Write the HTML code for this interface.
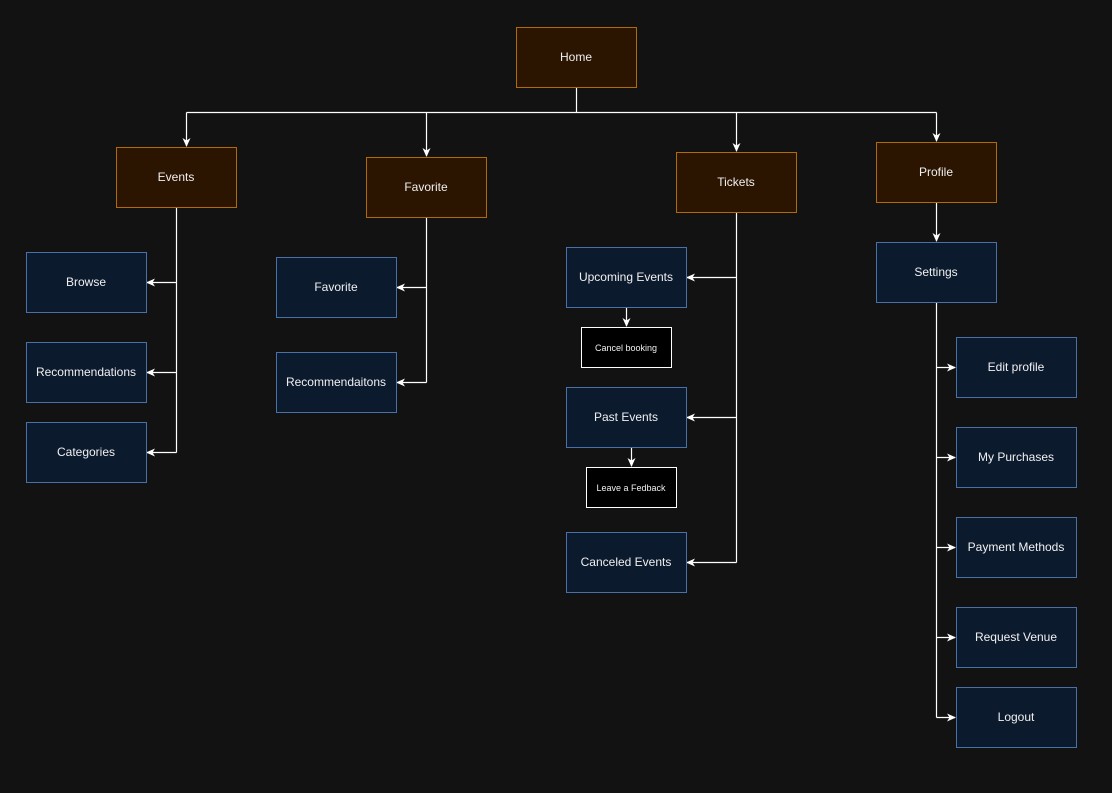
<!DOCTYPE html>
<html><head><meta charset="utf-8"><style>
html,body{margin:0;padding:0;background:#121212;}
svg{display:block;}
text{font-family:"Liberation Sans",Arial,sans-serif;fill:#f0f0f0;}
</style></head><body>
<svg width="1112" height="793" viewBox="0 0 1112 793" xmlns="http://www.w3.org/2000/svg">
<defs>
<marker id="a" markerWidth="10" markerHeight="10" refX="8" refY="5" orient="auto" markerUnits="userSpaceOnUse">
<path d="M0,1 L9,5 L0,9 L2.5,5 Z" fill="#ffffff"/>
</marker>
</defs>
<rect width="1112" height="793" fill="#121212"/>
<g stroke="#ffffff" stroke-width="1.2" fill="none">
<!-- home -->
<path d="M576.5,87 V112.5"/>
<path d="M186.5,112.5 H936.5"/>
<path d="M186.5,112.5 V146" marker-end="url(#a)"/>
<path d="M426.5,112.5 V156" marker-end="url(#a)"/>
<path d="M736.5,112.5 V151" marker-end="url(#a)"/>
<path d="M936.5,112.5 V141" marker-end="url(#a)"/>
<!-- events -->
<path d="M176.5,207 V452.5"/>
<path d="M176.5,282.5 H147" marker-end="url(#a)"/>
<path d="M176.5,372.5 H147" marker-end="url(#a)"/>
<path d="M176.5,452.5 H147" marker-end="url(#a)"/>
<!-- favorite -->
<path d="M426.5,217 V382.5"/>
<path d="M426.5,287.5 H397" marker-end="url(#a)"/>
<path d="M426.5,382.5 H397" marker-end="url(#a)"/>
<!-- tickets -->
<path d="M736.5,212 V562.5"/>
<path d="M736.5,277.5 H687" marker-end="url(#a)"/>
<path d="M736.5,417.5 H687" marker-end="url(#a)"/>
<path d="M736.5,562.5 H687" marker-end="url(#a)"/>
<path d="M626.5,307 V326" marker-end="url(#a)"/>
<path d="M631.5,447 V466" marker-end="url(#a)"/>
<!-- profile -->
<path d="M936.5,202 V241" marker-end="url(#a)"/>
<path d="M936.5,302 V717.5"/>
<path d="M936.5,367.5 H955" marker-end="url(#a)"/>
<path d="M936.5,457.5 H955" marker-end="url(#a)"/>
<path d="M936.5,547.5 H955" marker-end="url(#a)"/>
<path d="M936.5,637.5 H955" marker-end="url(#a)"/>
<path d="M936.5,717.5 H955" marker-end="url(#a)"/>
</g>
<g fill="#2b1400" stroke="#b06a08" stroke-width="1">
<rect x="516.5" y="27.5" width="120" height="60"/>
<rect x="116.5" y="147.5" width="120" height="60"/>
<rect x="366.5" y="157.5" width="120" height="60"/>
<rect x="676.5" y="152.5" width="120" height="60"/>
<rect x="876.5" y="142.5" width="120" height="60"/>
</g>
<g fill="#0c1a2e" stroke="#4a70a8" stroke-width="1">
<rect x="26.5" y="252.5" width="120" height="60"/>
<rect x="26.5" y="342.5" width="120" height="60"/>
<rect x="26.5" y="422.5" width="120" height="60"/>
<rect x="276.5" y="257.5" width="120" height="60"/>
<rect x="276.5" y="352.5" width="120" height="60"/>
<rect x="566.5" y="247.5" width="120" height="60"/>
<rect x="566.5" y="387.5" width="120" height="60"/>
<rect x="566.5" y="532.5" width="120" height="60"/>
<rect x="876.5" y="242.5" width="120" height="60"/>
<rect x="956.5" y="337.5" width="120" height="60"/>
<rect x="956.5" y="427.5" width="120" height="60"/>
<rect x="956.5" y="517.5" width="120" height="60"/>
<rect x="956.5" y="607.5" width="120" height="60"/>
<rect x="956.5" y="687.5" width="120" height="60"/>
</g>
<g fill="#000000" stroke="#ffffff" stroke-width="1">
<rect x="581.5" y="327.5" width="90" height="40"/>
<rect x="586.5" y="467.5" width="90" height="40"/>
</g>
<g font-size="12" text-anchor="middle">
<text x="576" y="61">Home</text>
<text x="176" y="181">Events</text>
<text x="426" y="191">Favorite</text>
<text x="736" y="186">Tickets</text>
<text x="936" y="176">Profile</text>
<text x="86" y="286">Browse</text>
<text x="86" y="376">Recommendations</text>
<text x="86" y="456">Categories</text>
<text x="336" y="291">Favorite</text>
<text x="336" y="386">Recommendaitons</text>
<text x="626" y="281">Upcoming Events</text>
<text x="626" y="421">Past Events</text>
<text x="626" y="566">Canceled Events</text>
<text x="936" y="276">Settings</text>
<text x="1016" y="371">Edit profile</text>
<text x="1016" y="461">My Purchases</text>
<text x="1016" y="551">Payment Methods</text>
<text x="1016" y="641">Request Venue</text>
<text x="1016" y="721">Logout</text>
</g>
<g font-size="9" text-anchor="middle">
<text x="626" y="351">Cancel booking</text>
<text x="631" y="491">Leave a Fedback</text>
</g>
</svg>
</body></html>
